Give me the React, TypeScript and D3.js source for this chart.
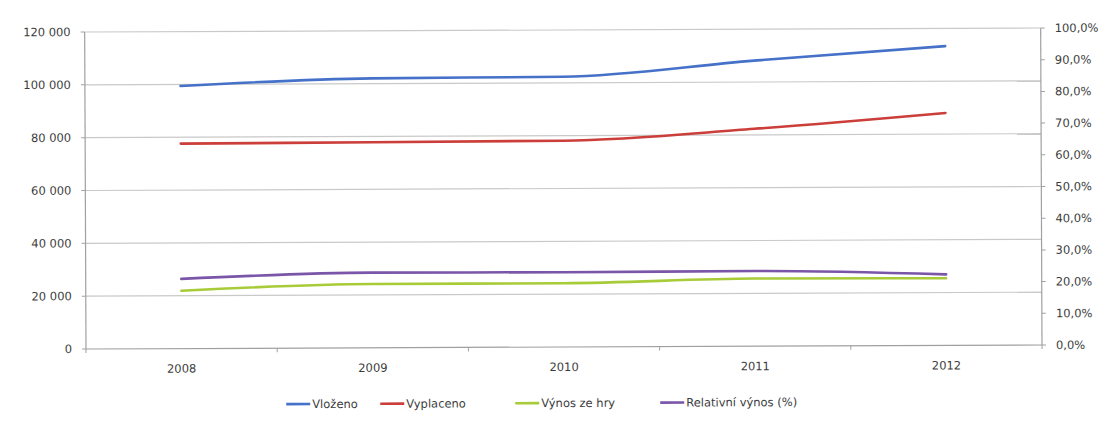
import React from "react";
import * as d3 from "d3";

// Yearly figures
const years = ["2008", "2009", "2010", "2011", "2012"];
const vlozeno = [99400, 102000, 102300, 108100, 113300];
const vyplaceno = [77600, 77800, 78100, 82300, 88000];
const vynosZeHry = [21900, 24150, 24150, 25600, 25400];
const relativniVynos = [22.0, 23.7, 23.6, 23.7, 22.4];

const leftTicks = [0, 20000, 40000, 60000, 80000, 100000, 120000];
const rightTicks = [0, 10, 20, 30, 40, 50, 60, 70, 80, 90, 100];

const seriesNames = ["Vloženo", "Vyplaceno", "Výnos ze hry", "Relativní výnos (%)"];
const seriesColors = ["#4571c9", "#cc3e3a", "#a8cb38", "#7a55a8"];

const W = 1108;
const H = 423;
const plot = { left: 86, right: 1042, top: 32, bottom: 349 };

const cz = d3.formatLocale({
  decimal: ",",
  thousands: "\u00a0",
  grouping: [3],
  currency: ["", " Kč"],
});
const fmtLeft = cz.format(",.0f");
const fmtRight = (v: number) => cz.format(".1f")(v) + "%";

const FONT = "'DejaVu Sans', sans-serif";
const TEXT = "#3c3c3c";

export default function App() {
  const x = d3
    .scaleBand<string>()
    .domain(years)
    .range([plot.left, plot.right]);
  const yL = d3
    .scaleLinear()
    .domain([0, 120000])
    .range([plot.bottom, plot.top]);
  const yR = d3.scaleLinear().domain([0, 100]).range([plot.bottom, plot.top]);

  const cx = (i: number) => (x(years[i]) ?? 0) + x.bandwidth() / 2;

  const lineL = d3
    .line<number>()
    .x((_, i) => cx(i))
    .y((d) => yL(d))
    .curve(d3.curveMonotoneX);
  const lineR = d3
    .line<number>()
    .x((_, i) => cx(i))
    .y((d) => yR(d))
    .curve(d3.curveMonotoneX);

  const paths = [
    lineL(vlozeno),
    lineL(vyplaceno),
    lineL(vynosZeHry),
    lineR(relativniVynos),
  ];

  const boundaries = years.map((y) => x(y) ?? 0).concat([plot.right]);

  const legendItems = [
    { x: 286, w: 56 },
    { x: 380, w: 70 },
    { x: 515, w: 90 },
    { x: 660, w: 0 },
  ];

  return (
    <svg
      width={W}
      height={H}
      style={{ position: "absolute", left: 0, top: 0, background: "#fff" }}
    >
      <rect width={W} height={H} fill="#fff" />
      <g transform={`rotate(-0.24 ${plot.left} ${plot.bottom})`}>
        {/* horizontal gridlines */}
        {leftTicks.map((t) =>
          t === 0 ? null : (
            <line
              key={"g" + t}
              x1={plot.left}
              x2={plot.right}
              y1={yL(t)}
              y2={yL(t)}
              stroke="#c9c9c9"
              strokeWidth={1.2}
            />
          )
        )}

        {/* axes */}
        <line
          x1={plot.left}
          x2={plot.left}
          y1={plot.top}
          y2={plot.bottom}
          stroke="#a0a0a0"
          strokeWidth={1.2}
        />
        <line
          x1={plot.right}
          x2={plot.right}
          y1={plot.top}
          y2={plot.bottom}
          stroke="#a0a0a0"
          strokeWidth={1.2}
        />
        <line
          x1={plot.left}
          x2={plot.right}
          y1={plot.bottom}
          y2={plot.bottom}
          stroke="#a0a0a0"
          strokeWidth={1.2}
        />

        {/* left ticks & labels */}
        {leftTicks.map((t) => (
          <g key={"l" + t}>
            <line
              x1={plot.left - 4}
              x2={plot.left}
              y1={yL(t)}
              y2={yL(t)}
              stroke="#a0a0a0"
            />
            <text
              x={plot.left - 14}
              y={yL(t)}
              dy="0.35em"
              textAnchor="end"
              fontFamily={FONT}
              fontSize={11.5}
              fill={TEXT}
            >
              {fmtLeft(t)}
            </text>
          </g>
        ))}

        {/* right ticks & labels */}
        {rightTicks.map((t) => (
          <g key={"r" + t}>
            <line
              x1={plot.right}
              x2={plot.right + 4}
              y1={yR(t)}
              y2={yR(t)}
              stroke="#a0a0a0"
            />
            <text
              x={plot.right + 14}
              y={yR(t)}
              dy="0.35em"
              textAnchor="start"
              fontFamily={FONT}
              fontSize={11.5}
              fill={TEXT}
            >
              {fmtRight(t)}
            </text>
          </g>
        ))}

        {/* category ticks & labels */}
        {boundaries.map((b, i) => (
          <line
            key={"b" + i}
            x1={b}
            x2={b}
            y1={plot.bottom}
            y2={plot.bottom + 4}
            stroke="#a0a0a0"
          />
        ))}
        {years.map((y, i) => (
          <text
            key={"x" + y}
            x={cx(i)}
            y={plot.bottom + 20}
            dy="0.35em"
            textAnchor="middle"
            fontFamily={FONT}
            fontSize={11.5}
            fill={TEXT}
          >
            {y}
          </text>
        ))}

        {/* series */}
        {paths.map((p, i) => (
          <path
            key={"p" + i}
            d={p ?? ""}
            fill="none"
            stroke={seriesColors[i]}
            strokeWidth={2.6}
            strokeLinecap="round"
            strokeLinejoin="round"
          />
        ))}

        {/* legend */}
        {seriesNames.map((name, i) => (
          <g key={"lg" + i} transform={`translate(${legendItems[i].x},405)`}>
            <line
              x1={0}
              x2={24}
              y1={0}
              y2={0}
              stroke={seriesColors[i]}
              strokeWidth={2.6}
            />
            <text
              x={26}
              y={0}
              dy="0.35em"
              fontFamily={FONT}
              fontSize={11.5}
              fill={TEXT}
            >
              {name}
            </text>
          </g>
        ))}
      </g>
    </svg>
  );
}
